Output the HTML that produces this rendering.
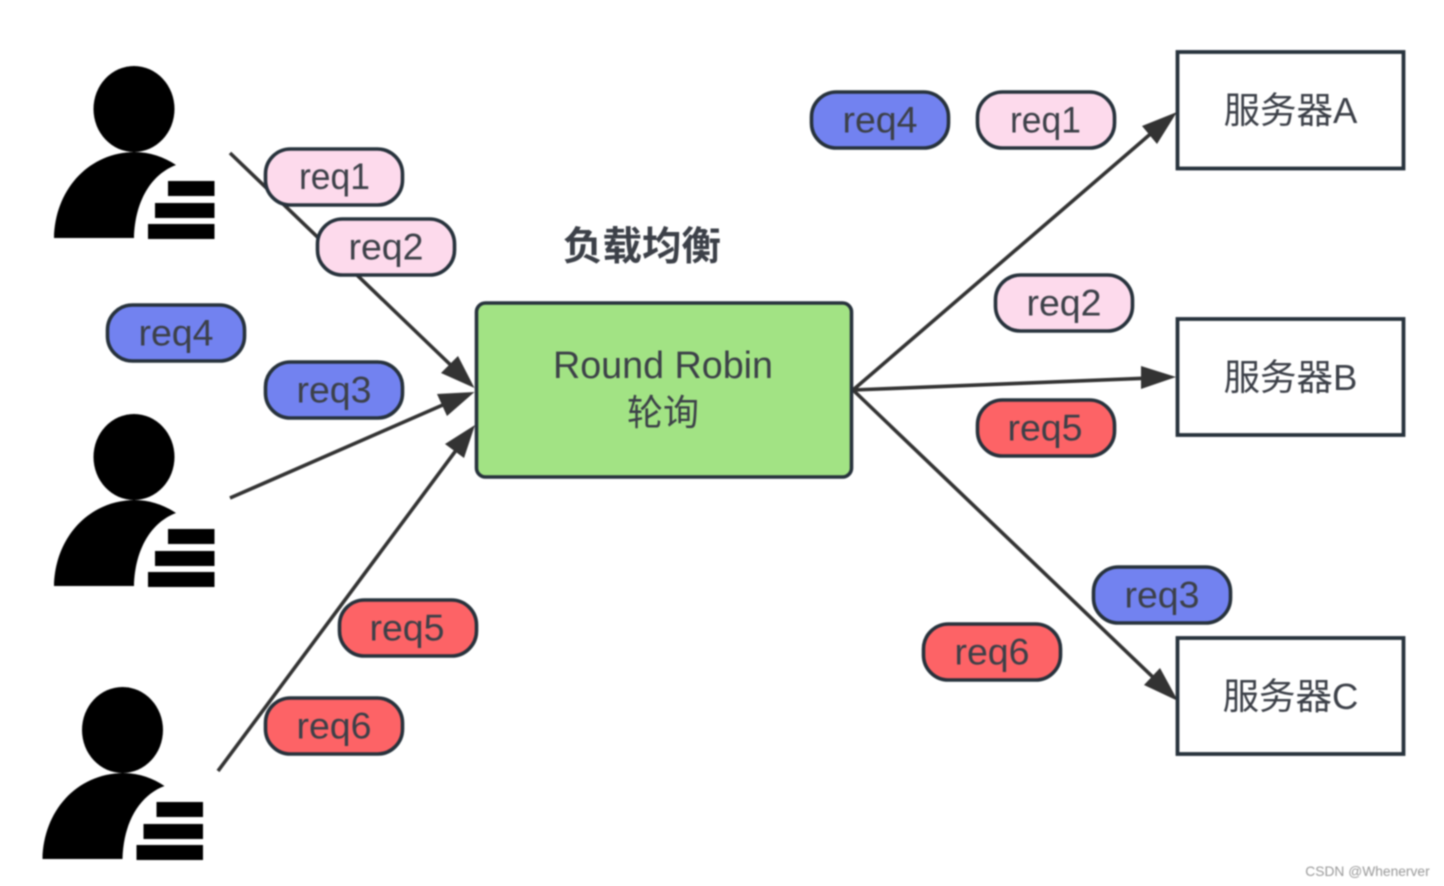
<!DOCTYPE html>
<html><head><meta charset="utf-8"><style>
html,body{margin:0;padding:0;background:#fff;width:1444px;height:886px;overflow:hidden}
svg{display:block;filter:blur(.7px)}
text{font-family:"Liberation Sans","Noto Sans CJK SC",sans-serif;fill:#3c4048;text-anchor:middle}
.p{stroke:#27323c;stroke-width:3.6}
.l{stroke:#333;stroke-width:3.6;fill:none}
.a{fill:#333}
.s{fill:#fff;stroke:#27323c;stroke-width:3.8}
.t{font-size:37.5px}
</style></head><body>
<svg width="1444" height="886" viewBox="0 0 1444 886" xmlns="http://www.w3.org/2000/svg">
<defs><g id="u">
<ellipse cx="134" cy="109" rx="40.500" ry="43"/>
<path d="M54 238C55 190 88 153 134 152C150 152 164 157 176 165C152 174 135 200 134 238Z"/>
<rect x="168" y="181" width="46.500" height="15"/><rect x="155" y="203" width="59.500" height="15"/><rect x="148" y="224" width="66.500" height="15"/>
</g></defs>
<use href="#u"/><use href="#u" y="348"/><use href="#u" x="-11.500" y="621"/>

<path class="l" d="M230 153L460 374M230 498L445 404M218 771L460 445"/>
<path class="a" d="M474.500 388L458 356L441 373ZM474.500 392L437 394L447 416ZM475 425L445 444L464 458Z"/>
<path class="l" d="M853 390L1155 130M853 390L1150 378M853 390L1158 682"/>
<path class="a" d="M1177 112L1142 126L1157 144ZM1176 377L1141 366L1141 389ZM1178 701L1160 668L1144 685Z"/>

<rect class="p" x="476.500" y="303" width="375" height="174" rx="9" fill="#a2e384"/>
<text x="663" y="378" font-size="37.700">Round Robin</text>
<text x="663" y="425" font-size="36">轮询</text>
<text x="642" y="260" font-size="39.500" font-weight="700">负载均衡</text>

<rect class="s" x="1177.500" y="52" width="226" height="116.500"/>
<rect class="s" x="1177.500" y="319" width="226" height="116"/>
<rect class="s" x="1177.500" y="638" width="226" height="116"/>
<text x="1290.500" y="123" font-size="36.500">服务器A</text>
<text x="1290.500" y="390" font-size="36.500">服务器B</text>
<text x="1290.500" y="709" font-size="36.500">服务器C</text>

<rect class="p" x="265.500" y="149" width="137" height="56" rx="25" fill="#fddaec"/><text class="t" x="334.500" y="189" textLength="71" lengthAdjust="spacingAndGlyphs">req1</text>
<rect class="p" x="317.500" y="219" width="137" height="56" rx="25" fill="#fddaec"/><text class="t" x="386" y="259.500">req2</text>
<rect class="p" x="107.500" y="305" width="137" height="56" rx="25" fill="#7282f0"/><text class="t" x="176" y="345.500">req4</text>
<rect class="p" x="265.500" y="362" width="137" height="56" rx="25" fill="#7282f0"/><text class="t" x="334" y="402.500">req3</text>
<rect class="p" x="339.500" y="600" width="137" height="56" rx="25" fill="#fd6366"/><text class="t" x="407" y="640.500">req5</text>
<rect class="p" x="265.500" y="698" width="137" height="56" rx="25" fill="#fd6366"/><text class="t" x="334" y="738.500">req6</text>
<rect class="p" x="811.500" y="92" width="137" height="56" rx="25" fill="#7282f0"/><text class="t" x="880" y="132.500">req4</text>
<rect class="p" x="977.500" y="92" width="137" height="56" rx="25" fill="#fddaec"/><text class="t" x="1045.500" y="132.500" textLength="71" lengthAdjust="spacingAndGlyphs">req1</text>
<rect class="p" x="995.500" y="275" width="137" height="56" rx="25" fill="#fddaec"/><text class="t" x="1064" y="315.500">req2</text>
<rect class="p" x="977.500" y="400" width="137" height="56" rx="25" fill="#fd6366"/><text class="t" x="1045" y="440.500">req5</text>
<rect class="p" x="1093.500" y="567" width="137" height="56" rx="25" fill="#7282f0"/><text class="t" x="1162" y="607.500">req3</text>
<rect class="p" x="923.500" y="624" width="137" height="56" rx="25" fill="#fd6366"/><text class="t" x="992" y="664.500">req6</text>

<text x="1367.500" y="876" font-size="13.800" style="fill:#999">CSDN @Whenerver</text>
</svg>
</body></html>
